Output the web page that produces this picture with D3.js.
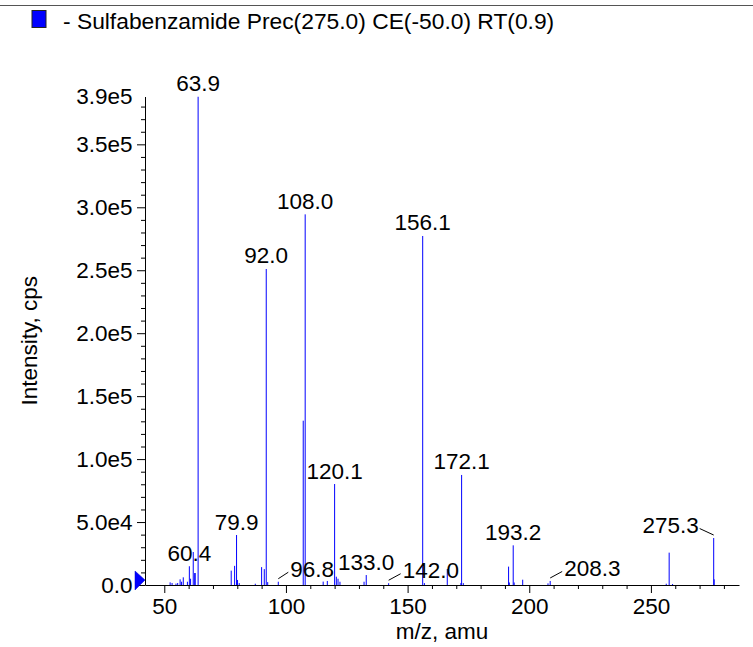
<!DOCTYPE html>
<html>
<head>
<meta charset="utf-8">
<script src="https://cdn.jsdelivr.net/npm/d3@7"></script>
<style>
  html, body { margin: 0; padding: 0; background: #fff; }
  svg { display: block; }
  text { font-family: "Liberation Sans", Arial, Helvetica, sans-serif; fill: #000; }
</style>
</head>
<body>
<svg id="chart" width="753" height="647"></svg>
<script>
// ---- data ----
const title = "- Sulfabenzamide Prec(275.0) CE(-50.0) RT(0.9)";
const xAxisTitle = "m/z, amu";
const yAxisTitle = "Intensity, cps";

const peakMz = [
  52.4, 53.2, 54.8, 55.5, 56.5, 57.1, 57.8, 59.5, 60.3, 60.8, 61.9, 62.5, 62.7, 63.9,
  77.5, 78.9, 79.7, 80.1, 80.8, 87.4, 90.0, 91.1, 91.9, 92.5, 96.85,
  107.1, 107.9, 115.3, 117.0, 120.0, 120.7, 121.4, 122.2,
  132.1, 133.0, 142.2, 156.2, 156.9, 166.3, 171.9, 172.2, 172.9,
  191.5, 191.8, 193.4, 193.8, 197.3, 207.7, 208.6,
  256.3, 257.5, 258.9, 275.8, 276.0
];
const peakIntensity = [
  2100, 1600, 1100, 1600, 4500, 2600, 6100, 2600, 14900, 5000, 26200, 9500, 9500, 387800,
  11400, 15200, 39700, 4000, 1500, 1000, 14200, 12600, 251000, 2300, 2600,
  130500, 294400, 2700, 3200, 80200, 6600, 5000, 2600,
  2600, 7900, 1400, 277200, 1500, 12700, 1500, 87400, 1500,
  14600, 2000, 31500, 2000, 4200, 1300, 3200,
  1000, 25700, 800, 37300, 4500
];

const labelText = ["60.4", "63.9", "79.9", "92.0", "96.8", "108.0", "120.1", "133.0",
                   "142.0", "156.1", "172.1", "193.2", "208.3", "275.3"];
const labelPeakMz = [60.3, 63.9, 79.7, 91.9, 96.85, 107.9, 120.0, 133.0,
                     142.2, 156.2, 172.2, 193.4, 208.6, 275.8];

const xTickValues = [50, 100, 150, 200, 250];
const xTickLabels = ["50", "100", "150", "200", "250"];
const yTickValues = [0, 50000, 100000, 150000, 200000, 250000, 300000, 350000];
const yTickLabels = ["0.0", "5.0e4", "1.0e5", "1.5e5", "2.0e5", "2.5e5", "3.0e5", "3.5e5"];
const yMaxValue = 388000;
const yMaxLabel = "3.9e5";
const xDomain = [42.07, 286.2];

// ---- layout ----
const plot = { left: 145, right: 739, top: 96.5, bottom: 585 };
const FS = 22.5;
// leader-line labels: horizontal offset of the leader end (px)
const leaderDx = { "96.8": 10, "142.0": 12, "208.3": 12, "275.3": -14 };

const svg = d3.select("#chart");

const x = d3.scaleLinear().domain(xDomain).range([plot.left, plot.right]);
const y = d3.scaleLinear().domain([0, yMaxValue]).range([plot.bottom, plot.top]);

// top separator line
svg.append("line")
  .attr("x1", 0).attr("x2", 753).attr("y1", 5.5).attr("y2", 5.5)
  .attr("stroke", "#555").attr("stroke-width", 1);

// legend
svg.append("rect")
  .attr("x", 32).attr("y", 10.5).attr("width", 14).attr("height", 17)
  .attr("fill", "#0000ff").attr("stroke", "#222").attr("stroke-width", 1);
svg.append("text")
  .attr("x", 63).attr("y", 28.5)
  .style("font-size", "22.8px")
  .text(title);

// peaks
svg.append("g").selectAll("line")
  .data(peakMz.map((m, i) => ({ mz: m, v: peakIntensity[i] })))
  .join("line")
  .attr("x1", d => x(d.mz)).attr("x2", d => x(d.mz))
  .attr("y1", y(0)).attr("y2", d => y(d.v))
  .attr("stroke", "#0000ff").attr("stroke-width", 1);

// x axis
const xMinor = d3.range(50, 290, 10).filter(v => v >= xDomain[0] && v <= xDomain[1] && v % 50 !== 0);
const xAxisG = svg.append("g").attr("transform", `translate(0,${plot.bottom})`);
xAxisG.call(d3.axisBottom(x).tickValues(xTickValues)
  .tickFormat((d, i) => xTickLabels[i]).tickSize(8).tickPadding(5).tickSizeOuter(0));
svg.append("g").attr("transform", `translate(0,${plot.bottom})`)
  .call(d3.axisBottom(x).tickValues(xMinor).tickFormat("").tickSize(4).tickSizeOuter(0))
  .call(g => g.select(".domain").remove());

// y axis
const yMinor = d3.range(10000, 390000, 10000).filter(v => v % 50000 !== 0);
const yAxisG = svg.append("g").attr("transform", `translate(${plot.left},0)`);
yAxisG.call(d3.axisLeft(y).tickValues(yTickValues)
  .tickFormat((d, i) => yTickLabels[i]).tickSize(8).tickPadding(4.5).tickSizeOuter(0));
svg.append("g").attr("transform", `translate(${plot.left},0)`)
  .call(d3.axisLeft(y).tickValues(yMinor).tickFormat("").tickSize(4).tickSizeOuter(0))
  .call(g => g.select(".domain").remove());

// top max label on y axis
svg.append("text")
  .attr("x", plot.left - 12.5).attr("y", y(yMaxValue))
  .attr("dy", "0.35em").attr("text-anchor", "end")
  .style("font-size", FS + "px")
  .text(yMaxLabel);

svg.selectAll(".tick text").style("font-size", FS + "px").style("font-family", '"Liberation Sans", Arial, sans-serif').attr("fill", "#000");
svg.selectAll(".domain, .tick line").attr("stroke", "#000");

// zero marker triangle
svg.append("path")
  .attr("d", d3.line()([[plot.left - 10, y(0) - 14], [plot.left - 10, y(0) + 5], [plot.left, y(0) - 5]]) + "Z")
  .attr("fill", "#0000ff").attr("stroke", "#0000cc").attr("stroke-width", 0.5);

// axis titles
svg.append("text")
  .attr("x", (plot.left + plot.right) / 2).attr("y", 638.5)
  .attr("text-anchor", "middle").style("font-size", FS + "px")
  .text(xAxisTitle);
svg.append("text")
  .attr("transform", `translate(37,${(plot.top + plot.bottom) / 2}) rotate(-90)`)
  .attr("text-anchor", "middle").style("font-size", FS + "px")
  .text(yAxisTitle);

// peak labels
const labG = svg.append("g");
labelText.forEach((t, i) => {
  const m = labelPeakMz[i];
  const idx = peakMz.indexOf(m);
  const px = x(m), py = y(peakIntensity[idx]);
  if (leaderDx[t] !== undefined) {
    const dx = leaderDx[t];
    const x0 = px, y0 = py - 3, x1 = px + dx, y1 = py - 9.5;
    labG.append("line").attr("x1", x0).attr("y1", y0).attr("x2", x1).attr("y2", y1)
      .attr("stroke", "#000").attr("stroke-width", 1);
    labG.append("text")
      .attr("x", x1 + (dx > 0 ? 2 : -1)).attr("y", y1 + 4.5)
      .attr("text-anchor", dx > 0 ? "start" : "end")
      .style("font-size", FS + "px").text(t);
  } else {
    labG.append("text")
      .attr("x", px).attr("y", py - 5.5)
      .attr("text-anchor", "middle")
      .style("font-size", FS + "px").text(t);
  }
});
</script>
</body>
</html>
